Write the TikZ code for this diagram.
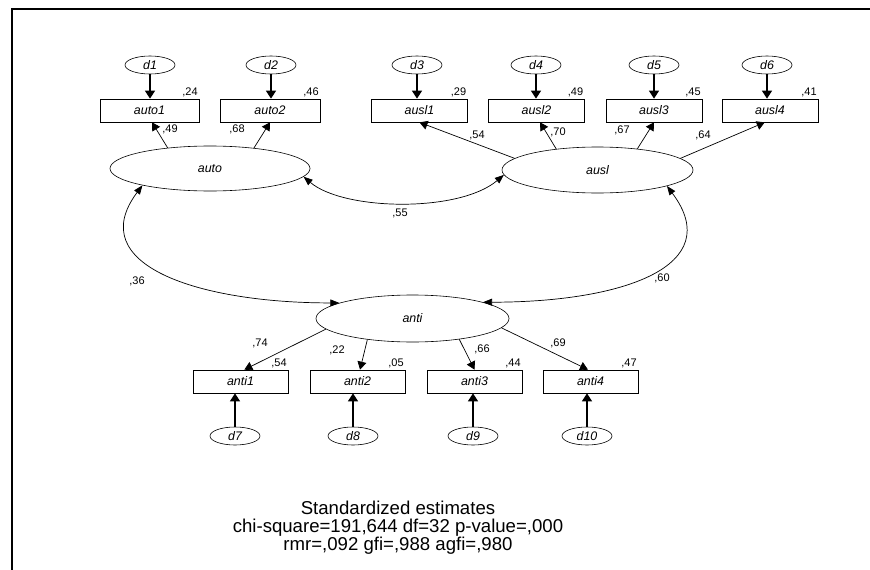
\documentclass[tikz,border=0pt]{standalone}
\usepackage{fontspec}
\setmainfont{Liberation Sans}
\usetikzlibrary{shapes.geometric,arrows.meta}

\begin{document}
\begin{tikzpicture}[x=1pt,y=-1pt,
    lat/.style={draw,ellipse,inner sep=0pt,line width=0.6pt,font=\fontsize{12.4}{14}\selectfont\itshape},
    err/.style={draw,ellipse,minimum width=50pt,minimum height=18pt,inner sep=0pt,line width=0.6pt,font=\fontsize{12.4}{14}\selectfont\itshape},
    obs/.style={draw,rectangle,minimum width=96pt,minimum height=23pt,inner sep=0pt,line width=0.7pt,font=\fontsize{12.4}{14}\selectfont\itshape},
    num/.style={inner sep=1.5pt,font=\fontsize{11}{13}\selectfont},
    load/.style={-{Triangle[length=8pt,width=9pt]},line width=0.7pt},
    errarr/.style={-{Triangle[length=8pt,width=10pt]},line width=1.2pt},
    cov/.style={{Triangle[length=9pt,width=7pt]}-{Triangle[length=9pt,width=7pt]},line width=0.7pt}]
                \useasboundingbox (0,0) rectangle (870,570);
                \draw[line width=2.3pt] (12,570)--(12,9)--(870,9);
                \node[lat,minimum width=200pt,minimum height=45pt] (auto) at (210,168.5){auto};
                \node[lat,minimum width=191pt,minimum height=46pt] (ausl) at (597.5,170){ausl};
                \node[lat,minimum width=193pt,minimum height=47pt] (anti) at (412.5,318.5){anti};
                \node[obs,minimum width=99pt] (auto1) at (149.5,110.5){auto1};
                \node[obs,minimum width=100pt] (auto2) at (270,110.5){auto2};
                \node[obs] (ausl1) at (419.5,110.5){ausl1};
                \node[obs] (ausl2) at (536.5,110.5){ausl2};
                \node[obs] (ausl3) at (654,110.5){ausl3};
                \node[obs] (ausl4) at (770,110.5){ausl4};
                \node[obs,minimum width=95pt] (anti1) at (240.5,381.5){anti1};
                \node[obs,minimum width=95pt] (anti2) at (357.5,381.5){anti2};
                \node[obs,minimum width=95pt] (anti3) at (474.5,381.5){anti3};
                \node[obs,minimum width=95pt] (anti4) at (590.5,381.5){anti4};
                \node[err] (d1) at (150,65){d1};
                \node[err] (d2) at (271,65){d2};
                \node[err] (d3) at (417,65){d3};
                \node[err] (d4) at (536,65){d4};
                \node[err] (d5) at (654,65){d5};
                \node[err] (d6) at (767,65){d6};
                \node[err] (d7) at (235,436){d7};
                \node[err] (d8) at (353,436){d8};
                \node[err] (d9) at (473,436){d9};
                \node[err] (d10) at (587,436){d10};
                \draw[errarr] (d1.south)--(d1.south |- auto1.north);
                \draw[errarr] (d2.south)--(d2.south |- auto2.north);
                \draw[errarr] (d3.south)--(d3.south |- ausl1.north);
                \draw[errarr] (d4.south)--(d4.south |- ausl2.north);
                \draw[errarr] (d5.south)--(d5.south |- ausl3.north);
                \draw[errarr] (d6.south)--(d6.south |- ausl4.north);
                \draw[errarr] (d7.north)--(d7.north |- anti1.south);
                \draw[errarr] (d8.north)--(d8.north |- anti2.south);
                \draw[errarr] (d9.north)--(d9.north |- anti3.south);
                \draw[errarr] (d10.north)--(d10.north |- anti4.south);
                \draw[load] (auto.154)--(auto1.282);
                \draw[load] (auto.25)--(auto2.south);
                \draw[load] (ausl.172)--(ausl1.south);
                \draw[load] (ausl.153)--(ausl2.287);
                \draw[load] (ausl.28)--(ausl3.south);
                \draw[load] (ausl.8)--(ausl4.246);
                \draw[load] (anti.187)--(anti1.72);
                \draw[load] (anti.205)--(anti2.78);
                \draw[load] (anti.336)--(anti3.north);
                \draw[load] (anti.354)--(anti4.102);
                \draw[cov] (auto.355) .. controls +(40,34) and +(-45,38) .. (ausl.183);
                \draw[cov] (auto.194) .. controls +(-60,80) and +(-140,0) .. (anti.168);
                \draw[cov] (ausl.347) .. controls +(60,80) and +(140,0) .. (anti.13);
                \node[num,anchor=south east] at (auto1.north east){,24};
                \node[num,anchor=south east] at (auto2.north east){,46};
                \node[num,anchor=south east] at (ausl1.north east){,29};
                \node[num,anchor=south east] at (ausl2.north east){,49};
                \node[num,anchor=south east] at (ausl3.north east){,45};
                \node[num,anchor=south east] at (ausl4.north east){,41};
                \node[num,anchor=south east] at (anti1.north east){,54};
                \node[num,anchor=south east] at (anti2.north east){,05};
                \node[num,anchor=south east] at (anti3.north east){,44};
                \node[num,anchor=south east] at (anti4.north east){,47};
                \node[num] at (170,129){,49};
                \node[num] at (237,129){,68};
                \node[num] at (477,135){,54};
                \node[num] at (558,132){,70};
                \node[num] at (622,130){,67};
                \node[num] at (703,135){,64};
                \node[num] at (260,343){,74};
                \node[num] at (337,350){,22};
                \node[num] at (482,349){,66};
                \node[num] at (558,343){,69};
                \node[num] at (400,213){,55};
                \node[num] at (137,281){,36};
                \node[num] at (662,278){,60};
                \node[anchor=north,inner sep=0pt,align=center,font=\fontsize{18.6}{18}\selectfont] (fit) at (398,500.5){Standardized estimates\\chi-square=191,644 df=32 p-value=,000\\rmr=,092 gfi=,988 agfi=,980};
            \end{tikzpicture}
\end{document}
